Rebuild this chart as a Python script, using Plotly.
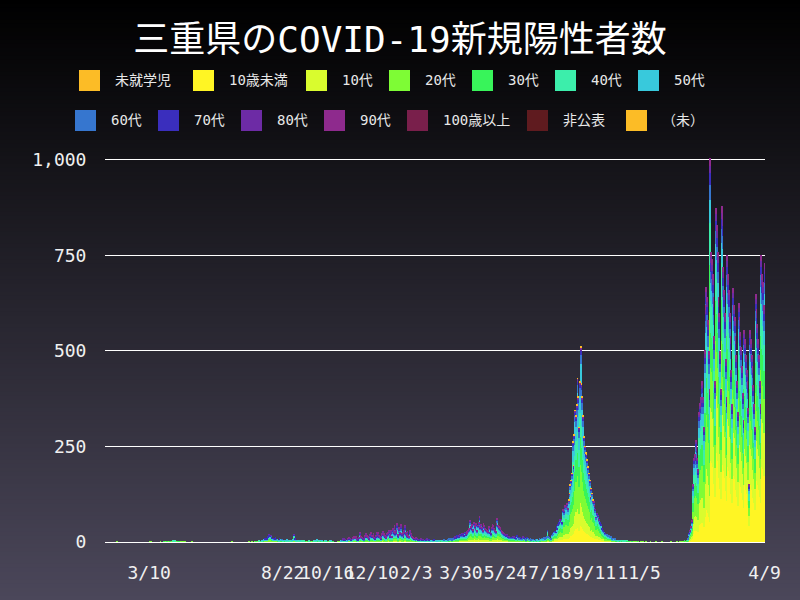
import numpy as np
import pandas as pd
import plotly.graph_objects as go

# ---------------- DATA ----------------
series_names = ['未就学児', '10歳未満', '10代', '20代', '30代', '40代', '50代',
                '60代', '70代', '80代', '90代', '100歳以上', '非公表', '（未）']
series_colors = ['#fcbc26', '#fff524', '#d9fc2e', '#7efc35', '#38f45a', '#3ceeab', '#38c9dc',
                 '#3676cf', '#3a2ebd', '#6d2ba5', '#8e2a8d', '#791f4b', '#5f1b1f', '#fcbc26']

# daily totals, month by month
m2020_01 = [0, 0, 0, 0, 0, 0, 0, 0, 0, 0, 0, 0, 0, 0, 1, 0]
m2020_02 = [0, 0, 0, 0, 0, 0, 0, 0, 0, 0, 0, 0, 0, 0, 0, 0, 0, 0, 0, 0, 0, 0, 0, 0, 0, 0, 0, 0, 0]
m2020_03 = [0, 0, 0, 0, 0, 0, 0, 0, 0, 0, 1, 0, 1, 0, 0, 0, 0, 0, 0, 0, 0, 0, 0, 1, 0, 0, 0, 2, 0, 0, 1]
m2020_04 = [2, 0, 1, 0, 2, 1, 0, 3, 1, 2, 3, 0, 1, 2, 0, 2, 0, 1, 0, 1, 0, 1, 1, 0, 0, 0, 0, 0, 0, 0]
m2020_05 = [0, 1, 0, 0, 0, 0, 0, 0, 0, 0, 0, 0, 0, 0, 0, 0, 0, 0, 0, 0, 0, 0, 0, 0, 0, 0, 0, 0, 0, 0, 0]
m2020_06 = [0, 0, 0, 0, 0, 0, 0, 0, 0, 0, 0, 0, 0, 0, 0, 0, 0, 0, 0, 1, 0, 0, 0, 0, 0, 0, 0, 0, 0, 0]
m2020_07 = [0, 0, 0, 0, 0, 0, 0, 0, 0, 0, 1, 0, 0, 0, 1, 0, 0, 1, 0, 2, 0, 1, 0, 3, 2, 0, 4, 3, 5, 6, 8]
m2020_08 = [7, 10, 8, 14, 20, 16, 18, 12, 10, 6, 9, 8, 11, 7, 6, 5, 4, 8, 6, 5, 7, 4, 3, 2, 5, 4, 6, 3, 4, 2, 3]
m2020_09 = [2, 4, 3, 6, 20, 8, 3, 5, 4, 3, 2, 4, 2, 1, 3, 2, 3, 1, 2, 1, 0, 2, 3, 1, 2, 1, 0, 2, 1, 3]
m2020_10 = [4, 3, 6, 2, 1, 3, 5, 2, 4, 1, 0, 2, 3, 5, 4, 2, 1, 0, 3, 2, 4, 1, 2, 0, 0, 0, 0, 0, 1, 0, 0]
m2020_11 = [1, 3, 5, 8, 6, 9, 7, 4, 3, 8, 10, 12, 9, 7, 5, 4, 11, 14, 12, 15, 10, 8, 6, 12, 26, 18, 14, 12, 9, 8]
m2020_12 = [15, 18, 22, 16, 14, 10, 8, 20, 24, 18, 16, 22, 12, 9, 18, 25, 20, 24, 17, 14, 10, 19, 23, 28, 21, 18, 12, 15, 22, 26, 30]
m2021_01 = [18, 22, 30, 15, 35, 28, 42, 25, 30, 49, 20, 18, 38, 26, 45, 22, 24, 17, 30, 44, 25, 20, 28, 16, 14, 30, 22, 18, 15, 12, 10]
m2021_02 = [10, 8, 12, 9, 7, 6, 5, 10, 8, 6, 7, 5, 4, 3, 6, 8, 5, 4, 6, 3, 2, 4, 5, 3, 6, 4, 2, 3]
m2021_03 = [2, 4, 3, 5, 2, 1, 3, 4, 6, 3, 5, 2, 4, 6, 8, 5, 7, 10, 6, 8, 12, 9, 14, 11, 16, 13, 18, 15, 20, 17, 22]
m2021_04 = [18, 22, 16, 25, 20, 28, 24, 30, 35, 56, 40, 38, 45, 32, 50, 42, 36, 48, 30, 44, 52, 66, 40, 46, 38, 30, 48, 42, 36, 34]
m2021_05 = [30, 28, 35, 40, 25, 22, 38, 45, 42, 36, 30, 28, 48, 61, 44, 40, 38, 35, 30, 28, 24, 22, 20, 18, 16, 20, 15, 12, 14, 10, 12]
m2021_06 = [12, 15, 10, 14, 11, 9, 16, 13, 10, 8, 12, 9, 7, 10, 14, 11, 8, 6, 9, 12, 10, 7, 5, 8, 6, 4, 7, 5, 3, 6]
m2021_07 = [4, 6, 3, 5, 8, 4, 7, 10, 6, 9, 12, 8, 11, 15, 31, 14, 12, 10, 8, 18, 22, 20, 25, 28, 26, 40, 35, 45, 50, 58, 55]
m2021_08 = [60, 50, 84, 80, 90, 95, 92, 100, 88, 110, 128, 150, 162, 180, 262, 200, 280, 345, 330, 360,
            429, 380, 300, 420, 511, 415, 380, 330, 275, 250, 233]
m2021_09 = [230, 215, 197, 180, 162, 120, 140, 128, 110, 105, 95, 85, 65, 75, 70, 62, 58, 50, 45, 35,
            31, 28, 25, 22, 20, 18, 20, 15, 16, 12]
m2021_10 = [14, 10, 8, 6, 10, 8, 7, 5, 4, 3, 5, 4, 3, 2, 4, 3, 2, 1, 3, 2, 4, 2, 1, 2, 0, 1, 2, 1, 0, 1, 0]
m2021_11 = [1, 0, 2, 1, 0, 0, 1, 0, 0, 1, 0, 0, 0, 1, 0, 0, 0, 0, 1, 0, 0, 0, 0, 0, 0, 1, 0, 0, 0, 0]
m2021_12 = [0, 0, 1, 0, 0, 0, 0, 0, 0, 0, 0, 0, 0, 1, 0, 0, 0, 0, 0, 0, 0, 1, 0, 0, 2, 1, 0, 1, 2, 1, 3]
m2022_01 = [2, 1, 3, 8, 15, 22, 30, 40, 55, 60, 150, 220, 230, 267, 250, 220, 190, 340, 363, 380,
            416, 420, 380, 300, 502, 620, 668, 640, 580, 500, 400]
m2022_02 = [1005, 760, 740, 700, 640, 540, 420, 875, 830, 760, 640, 600, 500, 400,
            880, 860, 720, 660, 600, 480, 380, 750, 700, 660, 600, 540, 450, 360]
m2022_03 = [665, 620, 590, 540, 490, 420, 340, 625, 590, 550, 510, 460, 390, 320,
            555, 530, 490, 450, 420, 350, 150, 555, 530, 490, 460, 410, 360, 300, 650, 610, 570]
m2022_04 = [530, 490, 420, 360, 750, 700, 680, 620, 730]

# age-group shares per period
period_starts = ['2020-01-16', '2020-11-01', '2021-03-01', '2021-07-01', '2021-12-01', '2022-02-01']
share_2020 = [0, .04, .08, .30, .16, .14, .12, .07, .05, .03, .01, 0, 0, 0]
share_winter = [0, .04, .06, .18, .12, .13, .13, .10, .10, .09, .05, 0, 0, 0]
share_spring = [0, .06, .10, .22, .16, .15, .13, .08, .05, .03, .02, 0, 0, 0]
share_delta = [0, .10, .14, .24, .17, .15, .11, .05, .02, .01, .005, 0, 0, .005]
share_omi1 = [0, .13, .17, .22, .15, .13, .08, .05, .03, .02, .02, 0, 0, 0]
share_omi2 = [0, .28, .18, .14, .12, .11, .06, .04, .03, .02, .02, 0, 0, 0]

tick_dates = ['2020-03-10', '2020-08-22', '2020-10-16', '2020-12-10', '2021-02-03', '2021-03-30',
              '2021-05-24', '2021-07-18', '2021-09-11', '2021-11-05', '2022-04-09']
tick_labels = ['3/10', '8/22', '10/16', '12/10', '2/3', '3/30', '5/24', '7/18', '9/11', '11/5', '4/9']
y_ticks = [0, 250, 500, 750, 1000]
y_tick_labels = ['0', '250', '500', '750', '1,000']

# ---------------- BUILD ----------------
month_blocks = [
    ('2020-01-16', m2020_01), ('2020-02-01', m2020_02), ('2020-03-01', m2020_03), ('2020-04-01', m2020_04),
    ('2020-05-01', m2020_05), ('2020-06-01', m2020_06), ('2020-07-01', m2020_07), ('2020-08-01', m2020_08),
    ('2020-09-01', m2020_09), ('2020-10-01', m2020_10), ('2020-11-01', m2020_11), ('2020-12-01', m2020_12),
    ('2021-01-01', m2021_01), ('2021-02-01', m2021_02), ('2021-03-01', m2021_03), ('2021-04-01', m2021_04),
    ('2021-05-01', m2021_05), ('2021-06-01', m2021_06), ('2021-07-01', m2021_07), ('2021-08-01', m2021_08),
    ('2021-09-01', m2021_09), ('2021-10-01', m2021_10), ('2021-11-01', m2021_11), ('2021-12-01', m2021_12),
    ('2022-01-01', m2022_01), ('2022-02-01', m2022_02), ('2022-03-01', m2022_03), ('2022-04-01', m2022_04),
]
dates = pd.DatetimeIndex(np.concatenate([pd.date_range(s, periods=len(v)).values for s, v in month_blocks]))
totals = np.concatenate([np.array(v, dtype=int) for _, v in month_blocks])
n = len(totals)

period_shares = [share_2020, share_winter, share_spring, share_delta, share_omi1, share_omi2]
shares = np.zeros((n, len(series_names)))
for start, sh in zip(period_starts, period_shares):
    shares[dates >= pd.Timestamp(start)] = sh

raw = totals[:, None] * shares
counts = np.floor(raw).astype(int)
rem = totals - counts.sum(axis=1)
order = np.argsort(-(raw - counts), axis=1, kind='stable')
for i in range(n):
    for k in range(max(rem[i], 0)):
        counts[i, order[i, k]] += 1

FONT = 'DejaVu Sans Mono, Noto Sans CJK JP, sans-serif'
W, H = 800, 600
ML, MR, MT, MB = 105, 35, 156, 58
PW, PH = W - ML - MR, H - MT - MB


def px_x(p):
    return (p - ML) / PW


def px_y(p):
    return (H - MB - p) / PH


fig = go.Figure()
for j, name in enumerate(series_names):
    fig.add_trace(go.Bar(x=dates, y=counts[:, j], name=name, marker_color=series_colors[j],
                         marker_line_width=0, width=86400000, showlegend=False))

shapes = []
# background gradient
bands = 150
for b in range(bands):
    y0p = b * H / bands
    y1p = (b + 1) * H / bands
    t = (y0p + y1p) / 2 / H
    col = 'rgb(%d,%d,%d)' % (round(75 * t), round(71 * t), round(90 * t))
    shapes.append(dict(type='rect', xref='paper', yref='paper', layer='below',
                       x0=px_x(-2), x1=px_x(W + 2), y0=px_y(y1p + 0.5), y1=px_y(y0p - 0.5),
                       fillcolor=col, line_width=0))

# manual legend
leg_row_x = [[79, 193, 306, 389, 472, 555, 638], [75, 158, 241, 324, 407, 527, 626]]
leg_row_y = [80.5, 120.5]
annotations = []
idx = 0
for r in range(2):
    for xp in leg_row_x[r]:
        yc = leg_row_y[r]
        shapes.append(dict(type='rect', xref='paper', yref='paper', layer='above',
                           x0=px_x(xp), x1=px_x(xp + 21), y0=px_y(yc + 10.5), y1=px_y(yc - 10.5),
                           fillcolor=series_colors[idx], line_width=0))
        annotations.append(dict(xref='paper', yref='paper', x=px_x(xp + 34), y=px_y(yc),
                                xanchor='left', yanchor='middle', showarrow=False,
                                text=series_names[idx], font=dict(family=FONT, size=14, color='#e8e8e8')))
        idx += 1

fig.update_layout(
    width=W, height=H, autosize=False,
    margin=dict(l=ML, r=MR, t=MT, b=MB, pad=0),
    paper_bgcolor='#26242e', plot_bgcolor='rgba(0,0,0,0)',
    barmode='stack', bargap=0,
    title=dict(text='三重県のCOVID-19新規陽性者数', x=0.5, xref='container', xanchor='center',
               y=1 - 39 / H, yref='container', yanchor='middle',
               font=dict(family=FONT, size=36, color='#ffffff')),
    xaxis=dict(type='date', range=['2020-01-15 12:00', '2022-04-09 12:00'],
               tickvals=tick_dates, ticktext=tick_labels, tickangle=0,
               showgrid=False, zeroline=False, showline=False,
               ticks='outside', ticklen=14, tickcolor='rgba(0,0,0,0)',
               tickfont=dict(family=FONT, size=18, color='#f0f0f0')),
    yaxis=dict(range=[0, 1010], tickvals=y_ticks, ticktext=y_tick_labels,
               showgrid=True, gridcolor='#ffffff', gridwidth=1,
               zeroline=True, zerolinecolor='#ffffff', zerolinewidth=1, showline=False,
               ticks='outside', ticklen=14, tickcolor='rgba(0,0,0,0)',
               tickfont=dict(family=FONT, size=18, color='#f0f0f0')),
    shapes=shapes, annotations=annotations,
    showlegend=False, hovermode=False,
)

fig.write_html('out.html', config={'displayModeBar': False},
               post_script="document.body.style.margin='0';document.body.style.overflow='hidden';")
